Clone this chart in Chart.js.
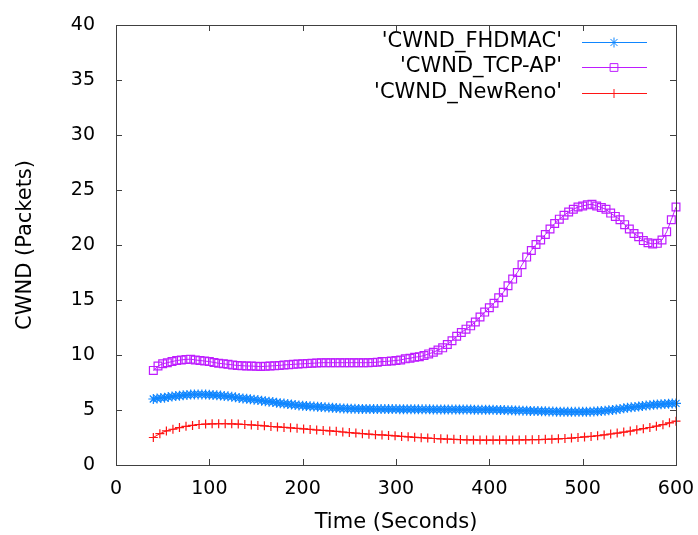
<!DOCTYPE html>
<html>
<head>
<meta charset="utf-8">
<script src="https://cdn.jsdelivr.net/npm/chart.js@4.4.0/dist/chart.umd.min.js"></script>
<style>
    body { margin: 0; background: #fff; }
    #chart { display: block; }
</style>
</head>
<body>
<canvas id="chart" width="698" height="535"></canvas>
<script>
// CWND over time, three protocols
const fhdTime = [
    40, 44, 48, 52, 56, 60, 64, 68, 72, 76,
    80, 84, 88, 92, 96, 100, 104, 108, 112, 116,
    120, 124, 128, 132, 136, 140, 144, 148, 152, 156,
    160, 164, 168, 172, 176, 180, 184, 188, 192, 196,
    200, 204, 208, 212, 216, 220, 224, 228, 232, 236,
    240, 244, 248, 252, 256, 260, 264, 268, 272, 276,
    280, 284, 288, 292, 296, 300, 304, 308, 312, 316,
    320, 324, 328, 332, 336, 340, 344, 348, 352, 356,
    360, 364, 368, 372, 376, 380, 384, 388, 392, 396,
    400, 404, 408, 412, 416, 420, 424, 428, 432, 436,
    440, 444, 448, 452, 456, 460, 464, 468, 472, 476,
    480, 484, 488, 492, 496, 500, 504, 508, 512, 516,
    520, 524, 528, 532, 536, 540, 544, 548, 552, 556,
    560, 564, 568, 572, 576, 580, 584, 588, 592, 596,
    600
];
const fhdValues = [
    6.0, 6.05, 6.1, 6.12, 6.18, 6.22, 6.28, 6.3, 6.35, 6.37,
    6.4, 6.42, 6.42, 6.42, 6.4, 6.38, 6.36, 6.34, 6.31, 6.28,
    6.24, 6.2, 6.15, 6.1, 6.05, 6.02, 5.98, 5.94, 5.9, 5.85,
    5.8, 5.76, 5.72, 5.66, 5.62, 5.58, 5.54, 5.5, 5.46, 5.42,
    5.38, 5.36, 5.34, 5.31, 5.29, 5.27, 5.24, 5.22, 5.2, 5.18,
    5.16, 5.14, 5.13, 5.12, 5.11, 5.1, 5.1, 5.09, 5.09, 5.08,
    5.08, 5.08, 5.08, 5.08, 5.08, 5.08, 5.07, 5.07, 5.07, 5.07,
    5.07, 5.06, 5.06, 5.06, 5.06, 5.05, 5.05, 5.05, 5.05, 5.05,
    5.05, 5.04, 5.04, 5.04, 5.04, 5.04, 5.03, 5.03, 5.03, 5.03,
    5.02, 5.02, 5.01, 5.0, 4.99, 4.98, 4.97, 4.96, 4.95, 4.94,
    4.93, 4.92, 4.91, 4.9, 4.89, 4.88, 4.87, 4.86, 4.85, 4.84,
    4.84, 4.83, 4.83, 4.83, 4.83, 4.83, 4.84, 4.85, 4.86, 4.88,
    4.9, 4.93, 4.97, 5.01, 5.05, 5.1, 5.15, 5.2, 5.24, 5.28,
    5.32, 5.36, 5.4, 5.44, 5.47, 5.5, 5.53, 5.55, 5.57, 5.59,
    5.6
];

const tcpTime = [
    40, 45, 50, 55, 60, 65, 70, 75, 80, 85,
    90, 95, 100, 105, 110, 115, 120, 125, 130, 135,
    140, 145, 150, 155, 160, 165, 170, 175, 180, 185,
    190, 195, 200, 205, 210, 215, 220, 225, 230, 235,
    240, 245, 250, 255, 260, 265, 270, 275, 280, 285,
    290, 295, 300, 305, 310, 315, 320, 325, 330, 335,
    340, 345, 350, 355, 360, 365, 370, 375, 380, 385,
    390, 395, 400, 405, 410, 415, 420, 425, 430, 435,
    440, 445, 450, 455, 460, 465, 470, 475, 480, 485,
    490, 495, 500, 505, 510, 515, 520, 525, 530, 535,
    540, 545, 550, 555, 560, 565, 570, 575, 580, 585,
    590, 595, 600
];
const tcpValues = [
    8.6, 9.0, 9.2, 9.3, 9.4, 9.5, 9.55, 9.6, 9.62, 9.55,
    9.5, 9.45, 9.4, 9.32, 9.25, 9.2, 9.15, 9.1, 9.05, 9.03,
    9.0, 9.0, 8.97, 8.95, 8.97, 9.0, 9.03, 9.05, 9.1, 9.12,
    9.15, 9.18, 9.2, 9.22, 9.25, 9.27, 9.3, 9.3, 9.3, 9.3,
    9.3, 9.3, 9.3, 9.3, 9.3, 9.3, 9.3, 9.32, 9.35, 9.4,
    9.42, 9.46, 9.5, 9.55, 9.65, 9.7, 9.8, 9.85, 9.95, 10.1,
    10.25, 10.45, 10.65, 10.95, 11.3, 11.7, 12.05, 12.35, 12.65, 13.0,
    13.45, 13.9, 14.3, 14.7, 15.2, 15.7, 16.3, 16.9, 17.5, 18.2,
    18.9, 19.5, 20.05, 20.45, 20.95, 21.45, 21.95, 22.35, 22.7, 23.0,
    23.25, 23.45, 23.55, 23.65, 23.7, 23.55, 23.4, 23.25, 22.9, 22.6,
    22.3, 21.85, 21.45, 21.05, 20.75, 20.4, 20.2, 20.1, 20.15, 20.45,
    21.2, 22.3, 23.45
];

const renoTime = [
    40, 47, 54, 61, 68, 75, 82, 89, 96, 103,
    110, 117, 124, 131, 138, 145, 152, 159, 166, 173,
    180, 187, 194, 201, 208, 215, 222, 229, 236, 243,
    250, 257, 264, 271, 278, 285, 292, 299, 306, 313,
    320, 327, 334, 341, 348, 355, 362, 369, 376, 383,
    390, 397, 404, 411, 418, 425, 432, 439, 446, 453,
    460, 467, 474, 481, 488, 495, 502, 509, 516, 523,
    530, 537, 544, 551, 558, 565, 572, 579, 586, 593,
    600
];
const renoValues = [
    2.5, 2.85, 3.1, 3.25, 3.4, 3.52, 3.6, 3.68, 3.72, 3.74,
    3.75, 3.75, 3.74, 3.72, 3.68, 3.64, 3.6, 3.56, 3.5, 3.46,
    3.42, 3.38, 3.33, 3.28, 3.23, 3.18, 3.14, 3.1, 3.06, 3.0,
    2.95, 2.9, 2.85, 2.8, 2.76, 2.73, 2.69, 2.65, 2.6, 2.56,
    2.52, 2.48, 2.45, 2.41, 2.38, 2.36, 2.33, 2.31, 2.29, 2.28,
    2.27, 2.27, 2.27, 2.27, 2.27, 2.27, 2.28, 2.29, 2.3, 2.31,
    2.33, 2.35, 2.38, 2.41, 2.45, 2.5, 2.55, 2.6, 2.66, 2.73,
    2.82, 2.9, 2.99, 3.08, 3.2, 3.3, 3.41, 3.53, 3.67, 3.83,
    3.98
];

const seriesNames = ["'CWND_FHDMAC'", "'CWND_TCP-AP'", "'CWND_NewReno'"];
const seriesColors = ['#0f86ff', '#be1cff', '#ff1414'];

const fontFamily = "'DejaVu Sans', sans-serif";

function toPoints(times, values) {
    return times.map((t, i) => ({x: t, y: values[i]}));
}

function makeSet(i, times, values, style, radius) {
    return {
        label: seriesNames[i],
        data: toPoints(times, values),
        borderColor: seriesColors[i],
        backgroundColor: 'rgba(0,0,0,0)',
        borderWidth: 1,
        pointStyle: style,
        pointRadius: radius,
        pointBorderWidth: 1.2,
        pointBorderColor: seriesColors[i],
        pointBackgroundColor: 'rgba(0,0,0,0)',
        tension: 0,
        clip: 10
    };
}

// gnuplot style box with inward ticks on all sides, plus the key
const gnuplotFrame = {
    id: 'gnuplotFrame',
    afterDatasetsDraw(chart) {
        const {ctx, chartArea: a, scales} = chart;
        const tl = 6;
        ctx.save();
        ctx.strokeStyle = '#404040';
        ctx.lineWidth = 1;
        ctx.strokeRect(Math.round(a.left) + 0.5, Math.round(a.top) + 0.5,
            Math.round(a.right - a.left), Math.round(a.bottom - a.top));
        ctx.beginPath();
        scales.x.ticks.forEach(t => {
            const px = Math.round(scales.x.getPixelForValue(t.value)) + 0.5;
            ctx.moveTo(px, a.bottom);
            ctx.lineTo(px, a.bottom - tl);
            ctx.moveTo(px, a.top);
            ctx.lineTo(px, a.top + tl);
        });
        scales.y.ticks.forEach(t => {
            const py = Math.round(scales.y.getPixelForValue(t.value)) + 0.5;
            ctx.moveTo(a.left, py);
            ctx.lineTo(a.left + tl, py);
            ctx.moveTo(a.right, py);
            ctx.lineTo(a.right - tl, py);
        });
        ctx.stroke();
        ctx.restore();
    },
    afterDraw(chart) {
        const ctx = chart.ctx;
        const rows = [42, 67, 93];
        ctx.save();
        chart.data.datasets.forEach((ds, i) => {
            const yy = rows[i];
            ctx.fillStyle = '#000';
            ctx.font = '21px ' + fontFamily;
            ctx.textAlign = 'right';
            ctx.textBaseline = 'middle';
            ctx.fillText(ds.label, 562, yy);

            ctx.strokeStyle = ds.borderColor;
            ctx.lineWidth = 1;
            ctx.beginPath();
            ctx.moveTo(582, yy + 0.5);
            ctx.lineTo(647, yy + 0.5);
            ctx.stroke();

            ctx.fillStyle = 'rgba(0,0,0,0)';
            Chart.helpers.drawPoint(ctx, {
                pointStyle: ds.pointStyle,
                radius: ds.pointRadius,
                borderWidth: 1.2,
                rotation: 0
            }, 614, yy + 0.5);
        });
        ctx.restore();
    }
};

// invisible tick marks give the label gap without growing the scale padding
function gapGrid(len) {
    return {
        display: true,
        drawOnChartArea: false,
        drawTicks: true,
        tickLength: len,
        color: 'rgba(0,0,0,0)'
    };
}

const ctx = document.getElementById('chart').getContext('2d');
new Chart(ctx, {
    type: 'line',
    data: {
        datasets: [
            makeSet(0, fhdTime, fhdValues, 'star', 5),
            makeSet(1, tcpTime, tcpValues, 'rect', 5.5),
            makeSet(2, renoTime, renoValues, 'cross', 4.5)
        ]
    },
    options: {
        responsive: false,
        animation: false,
        layout: {
            padding: {top: 25, right: 22, left: 0, bottom: 0}
        },
        plugins: {
            legend: {display: false},
            tooltip: {enabled: false}
        },
        scales: {
            x: {
                type: 'linear',
                min: 0,
                max: 600,
                afterFit: s => { s.height = 70; },
                grid: gapGrid(13),
                border: {display: false},
                ticks: {
                    stepSize: 100,
                    padding: 0,
                    maxRotation: 0,
                    color: '#000',
                    font: {family: fontFamily, size: 19}
                },
                title: {
                    display: true,
                    text: 'Time (Seconds)',
                    color: '#000',
                    padding: 0,
                    font: {family: fontFamily, size: 21}
                }
            },
            y: {
                min: 0,
                max: 40,
                afterFit: s => { s.width = 116; },
                grid: gapGrid(21),
                border: {display: false},
                ticks: {
                    stepSize: 5,
                    padding: 0,
                    color: '#000',
                    font: {family: fontFamily, size: 19}
                },
                title: {
                    display: true,
                    text: 'CWND (Packets)',
                    color: '#000',
                    padding: 13,
                    font: {family: fontFamily, size: 21}
                }
            }
        }
    },
    plugins: [gnuplotFrame]
});
</script>
</body>
</html>
